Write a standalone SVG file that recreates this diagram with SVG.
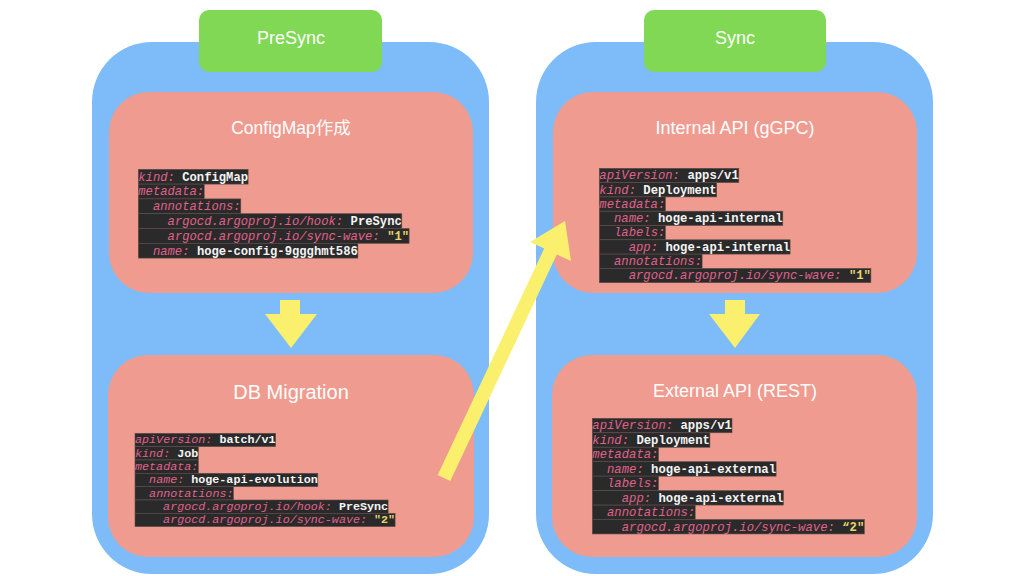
<svg xmlns="http://www.w3.org/2000/svg" width="1024" height="576" viewBox="0 0 1024 576">
<style>
.panel{fill:#7dbcf8}
.tab{fill:#80d855}
.box{fill:#f09b8f}
.arrow{fill:#faf06e}
.title{fill:#ffffff;font-family:"Liberation Sans","Noto Sans CJK JP",sans-serif;text-anchor:middle}
.bg{fill:#2a2a2a;stroke:#5e4e4e;stroke-width:0.6}
.code{font-family:"Liberation Mono","DejaVu Sans Mono",monospace}
.k{fill:#e0628a;font-style:italic}
.v{fill:#f4f4f4;font-weight:bold}
.s{fill:#e8d46a;font-weight:bold}
</style>
<rect width="1024" height="576" fill="#ffffff"/>

<g id="presync-panel">
<rect class="panel" x="92" y="42" width="397" height="532" rx="60"/>
</g>
<g id="sync-panel">
<rect class="panel" x="536" y="42" width="397" height="532" rx="60"/>
</g>
<g id="presync-tab">
<rect class="tab" x="199" y="10" width="183" height="62" rx="10"/>
<text class="title" x="291" y="43.5" font-size="18">PreSync</text>
</g>
<g id="sync-tab">
<rect class="tab" x="644" y="10" width="182" height="62" rx="10"/>
<text class="title" x="735" y="43.5" font-size="18">Sync</text>
</g>

<g id="configmap">
<rect class="box" x="109" y="92" width="364" height="201" rx="40"/>
<text class="title" x="291" y="133.5" font-size="17.5">ConfigMap作成</text>
<g class="code" font-size="12.2">
<rect class="bg" x="138.3" y="169.3" width="109.8" height="14.8"/>
<rect class="bg" x="138.3" y="184.1" width="65.9" height="14.8"/>
<rect class="bg" x="138.3" y="198.9" width="102.5" height="14.8"/>
<rect class="bg" x="138.3" y="213.7" width="263.5" height="14.8"/>
<rect class="bg" x="138.3" y="228.5" width="270.8" height="14.8"/>
<rect class="bg" x="138.3" y="243.3" width="219.6" height="14.8"/>
<text class="k" x="138.3" y="180.5">kind:</text><text class="v" x="182.2" y="180.5">ConfigMap</text>
<text class="k" x="138.3" y="195.3">metadata:</text>
<text class="k" x="152.9" y="210.1">annotations:</text>
<text class="k" x="167.6" y="224.9">argocd.argoproj.io/hook:</text><text class="v" x="350.6" y="224.9">PreSync</text>
<text class="k" x="167.6" y="239.7">argocd.argoproj.io/sync-wave:</text><text class="s" x="387.2" y="239.7">"1"</text>
<text class="k" x="152.9" y="254.5">name:</text><text class="v" x="196.9" y="254.5">hoge-config-9ggghmt586</text>
</g>
</g>

<g id="db-migration">
<rect class="box" x="108" y="355" width="366" height="202" rx="40"/>
<text class="title" x="291" y="399" font-size="20">DB Migration</text>
<g class="code" font-size="11.72">
<rect class="bg" x="135" y="433.3" width="140.6" height="13.33"/>
<rect class="bg" x="135" y="446.6" width="63.3" height="13.33"/>
<rect class="bg" x="135" y="460.0" width="63.3" height="13.33"/>
<rect class="bg" x="135" y="473.3" width="182.8" height="13.33"/>
<rect class="bg" x="135" y="486.6" width="98.4" height="13.33"/>
<rect class="bg" x="135" y="500.0" width="253.1" height="13.33"/>
<rect class="bg" x="135" y="513.3" width="260.1" height="13.33"/>
<text class="k" x="135" y="443.4">apiVersion:</text><text class="v" x="219.4" y="443.4">batch/v1</text>
<text class="k" x="135" y="456.7">kind:</text><text class="v" x="177.2" y="456.7">Job</text>
<text class="k" x="135" y="470.1">metadata:</text>
<text class="k" x="149.1" y="483.4">name:</text><text class="v" x="191.2" y="483.4">hoge-api-evolution</text>
<text class="k" x="149.1" y="496.7">annotations:</text>
<text class="k" x="163.1" y="510.1">argocd.argoproj.io/hook:</text><text class="v" x="338.9" y="510.1">PreSync</text>
<text class="k" x="163.1" y="523.4">argocd.argoproj.io/sync-wave:</text><text class="s" x="374.0" y="523.4">"2"</text>
</g>
</g>

<g id="internal-api">
<rect class="box" x="553" y="92" width="364" height="201" rx="40"/>
<text class="title" x="735" y="134" font-size="18">Internal API (gGPC)</text>
<g class="code" font-size="12.23">
<rect class="bg" x="599.3" y="168.3" width="139.5" height="14.3"/>
<rect class="bg" x="599.3" y="182.6" width="117.4" height="14.3"/>
<rect class="bg" x="599.3" y="196.9" width="66.1" height="14.3"/>
<rect class="bg" x="599.3" y="211.2" width="183.5" height="14.3"/>
<rect class="bg" x="599.3" y="225.5" width="66.1" height="14.3"/>
<rect class="bg" x="599.3" y="239.8" width="190.8" height="14.3"/>
<rect class="bg" x="599.3" y="254.1" width="102.8" height="14.3"/>
<rect class="bg" x="599.3" y="268.4" width="271.6" height="14.3"/>
<text class="k" x="599.3" y="179.2">apiVersion:</text><text class="v" x="687.4" y="179.2">apps/v1</text>
<text class="k" x="599.3" y="193.5">kind:</text><text class="v" x="643.3" y="193.5">Deployment</text>
<text class="k" x="599.3" y="207.8">metadata:</text>
<text class="k" x="614.0" y="222.1">name:</text><text class="v" x="658.0" y="222.1">hoge-api-internal</text>
<text class="k" x="614.0" y="236.4">labels:</text>
<text class="k" x="628.7" y="250.7">app:</text><text class="v" x="665.4" y="250.7">hoge-api-internal</text>
<text class="k" x="614.0" y="265.0">annotations:</text>
<text class="k" x="628.7" y="279.3">argocd.argoproj.io/sync-wave:</text><text class="s" x="848.9" y="279.3">"1"</text>
</g>
</g>

<g id="external-api">
<rect class="box" x="552" y="355" width="365" height="202" rx="40"/>
<text class="title" x="735" y="397" font-size="18">External API (REST)</text>
<g class="code" font-size="12.25">
<rect class="bg" x="592.3" y="418.3" width="139.7" height="14.46"/>
<rect class="bg" x="592.3" y="432.8" width="117.6" height="14.46"/>
<rect class="bg" x="592.3" y="447.2" width="66.2" height="14.46"/>
<rect class="bg" x="592.3" y="461.7" width="183.8" height="14.46"/>
<rect class="bg" x="592.3" y="476.1" width="66.2" height="14.46"/>
<rect class="bg" x="592.3" y="490.6" width="191.1" height="14.46"/>
<rect class="bg" x="592.3" y="505.1" width="102.9" height="14.46"/>
<rect class="bg" x="592.3" y="519.5" width="272.0" height="14.46"/>
<text class="k" x="592.3" y="429.3">apiVersion:</text><text class="v" x="680.5" y="429.3">apps/v1</text>
<text class="k" x="592.3" y="443.8">kind:</text><text class="v" x="636.4" y="443.8">Deployment</text>
<text class="k" x="592.3" y="458.2">metadata:</text>
<text class="k" x="607.0" y="472.7">name:</text><text class="v" x="651.1" y="472.7">hoge-api-external</text>
<text class="k" x="607.0" y="487.1">labels:</text>
<text class="k" x="621.7" y="501.6">app:</text><text class="v" x="658.5" y="501.6">hoge-api-external</text>
<text class="k" x="607.0" y="516.1">annotations:</text>
<text class="k" x="621.7" y="530.5">argocd.argoproj.io/sync-wave:</text><text class="s" x="842.2" y="530.5">“2"</text>
</g>
</g>

<g id="connectors">
<polygon class="arrow" points="280,300 300,300 300,314 317,314 291,348 265,314 280,314"/>
<polygon class="arrow" points="725,300 745,300 745,314 760,314 735,348 709,314 725,314"/>
<polygon class="arrow" points="437.7,475 450.3,481 556.8,254.5 571,261 565,221 530,242 544.2,248.5"/>
</g>
</svg>
